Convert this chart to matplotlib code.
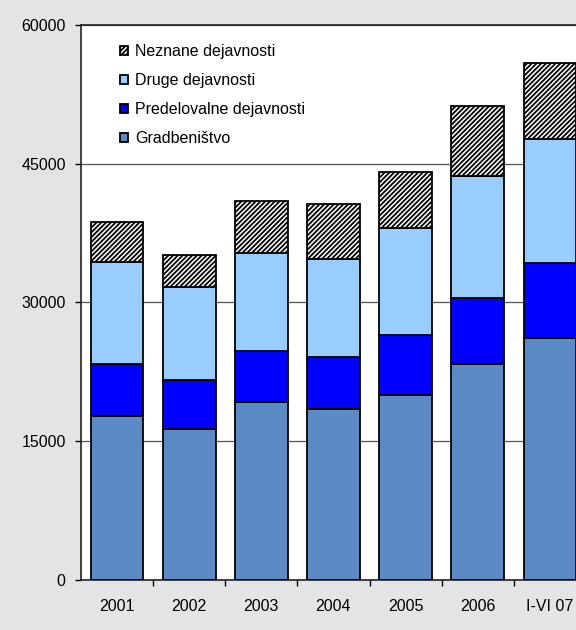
import matplotlib
matplotlib.use("Agg")
import matplotlib.pyplot as plt
import numpy as np

# podatki (odčitano s slike)
leta = ['2001', '2002', '2003', '2004', '2005', '2006', 'I-VI 07']
gradbenistvo = [17700, 16360, 19280, 18490, 20030, 23330, 26200]
predelovalne = [5650, 5230, 5480, 5650, 6450, 7190, 8040]
druge = [10990, 10050, 10590, 10590, 11540, 13160, 13470]
neznane = [4320, 3530, 5620, 5890, 6050, 7570, 8220]

plt.rcParams['font.family'] = ['Liberation Sans', 'DejaVu Sans']
plt.rcParams['hatch.linewidth'] = 1.3

fig = plt.figure(figsize=(5.76, 6.3), dpi=100, facecolor='#e4e4e4')
W, H = 576, 630
# os sega čez desni rob slike (zadnji stolpec je odrezan)
ax = fig.add_axes([81 / W, 50 / H, 505 / W, 555 / H])
ax.set_facecolor('white')

x = np.arange(len(leta))
sirina = 0.73
spodaj = np.zeros(len(leta))

serije = [
    (gradbenistvo, 'Gradbeništvo', '#5a8bc6', None),
    (predelovalne, 'Predelovalne dejavnosti', '#0000ff', None),
    (druge, 'Druge dejavnosti', '#99ccff', None),
    (neznane, 'Neznane dejavnosti', 'white', '///////'),
]

for vrednosti, ime, barva, vzorec in serije:
    ax.bar(x, vrednosti, sirina, bottom=spodaj, color=barva, edgecolor='black',
           linewidth=1.3, hatch=vzorec, label=ime, zorder=3)
    spodaj += np.array(vrednosti)

ax.set_xlim(-0.5, len(leta) - 0.5)
ax.set_ylim(0, 60000)
ax.set_yticks([0, 15000, 30000, 45000, 60000])
ax.set_yticklabels(['0', '15000', '30000', '45000', '60000'])
ax.set_xticks(x)
ax.set_xticklabels(leta)
ax.set_xticks(np.arange(0.5, len(leta) - 0.5, 1), minor=True)
ax.tick_params(axis='x', which='major', length=0, pad=14, labelsize=11.5)
ax.tick_params(axis='x', which='minor', length=4, width=1, direction='out')
ax.tick_params(axis='y', length=4, width=1, pad=7, labelsize=11.5)

# mreža samo vodoravno
ax.yaxis.grid(True, color='#555555', linewidth=0.9, zorder=0)
ax.set_axisbelow(True)
for s in ['left', 'bottom', 'top']:
    ax.spines[s].set_linewidth(1.2)
    ax.spines[s].set_color('#222222')
ax.spines['right'].set_visible(False)

# legenda v obratnem vrstnem redu
h, l = ax.get_legend_handles_labels()
leg = ax.legend(h[::-1], l[::-1], loc='upper left', bbox_to_anchor=(0.065, 0.977),
                frameon=False, fontsize=11.5, handlelength=0.5, handleheight=0.5,
                handletextpad=0.45, labelspacing=0.88, borderaxespad=0)

plt.savefig('out.png', dpi=100, facecolor=fig.get_facecolor())
